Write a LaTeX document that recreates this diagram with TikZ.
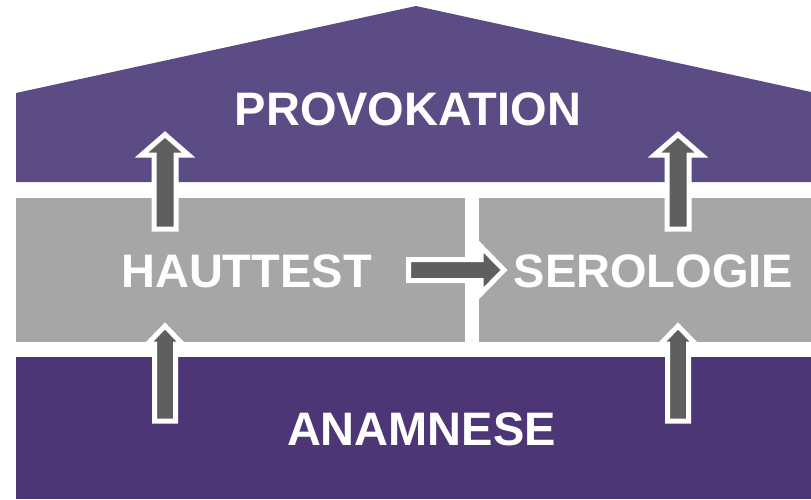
\documentclass[tikz,border=0pt]{standalone}
\usepackage{fontspec}
\setmainfont{Liberation Sans}
\definecolor{roofpurple}{HTML}{5C4C86}
\definecolor{basepurple}{HTML}{4D3676}
\definecolor{boxgrey}{HTML}{A6A6A6}
\definecolor{arrowgrey}{HTML}{5F5F5F}
\tikzset{
  lbl/.style={text=white, font=\fontsize{47}{56}\selectfont\bfseries, anchor=base, inner sep=0pt},
  blockarrow/.style={fill=arrowgrey, draw=white, line width=5pt, line join=miter}
}
\begin{document}
\begin{tikzpicture}[x=1pt,y=-1pt]
\useasboundingbox[fill=white] (0,0) rectangle (811,499);
% roof
\fill[roofpurple] (16,182) -- (16,93) -- (416,6) -- (811,92) -- (811,182) -- cycle;
% middle boxes
\fill[boxgrey] (16,198) rectangle (465,342);
\fill[boxgrey] (479,198) rectangle (811,342);
% base
\fill[basepurple] (16,357) rectangle (811,499);
% labels
\node[lbl] (prov) at (408,125) {PROVOKATION};
\node[lbl] (haut) at (246.5,287) {HAUTTEST};
\node[lbl] (sero) at (653.5,287) {SEROLOGIE};
\node[lbl] (anam) at (421.5,445) {ANAMNESE};
% upper arrows
\foreach \cx/\nm in {165/ua, 678/ub}{
  \draw[blockarrow] (\cx,134.5) -- (\cx+23.5,155) -- (\cx+11,155) -- (\cx+11,229)
     -- (\cx-11,229) -- (\cx-11,155) -- (\cx-23.5,155) -- cycle;
}
% lower arrows
\foreach \cx/\nm in {165/la, 678/lb}{
  \draw[blockarrow] (\cx,326) -- (\cx+17.5,344) -- (\cx+10.5,344) -- (\cx+10.5,421)
     -- (\cx-10.5,421) -- (\cx-10.5,344) -- (\cx-17.5,344) -- cycle;
}
% horizontal arrow
\draw[blockarrow] (504,270) -- (481,293.5) -- (481,280.5) -- (408.5,280.5)
   -- (408.5,259.5) -- (481,259.5) -- (481,246.5) -- cycle;
\end{tikzpicture}
\end{document}
